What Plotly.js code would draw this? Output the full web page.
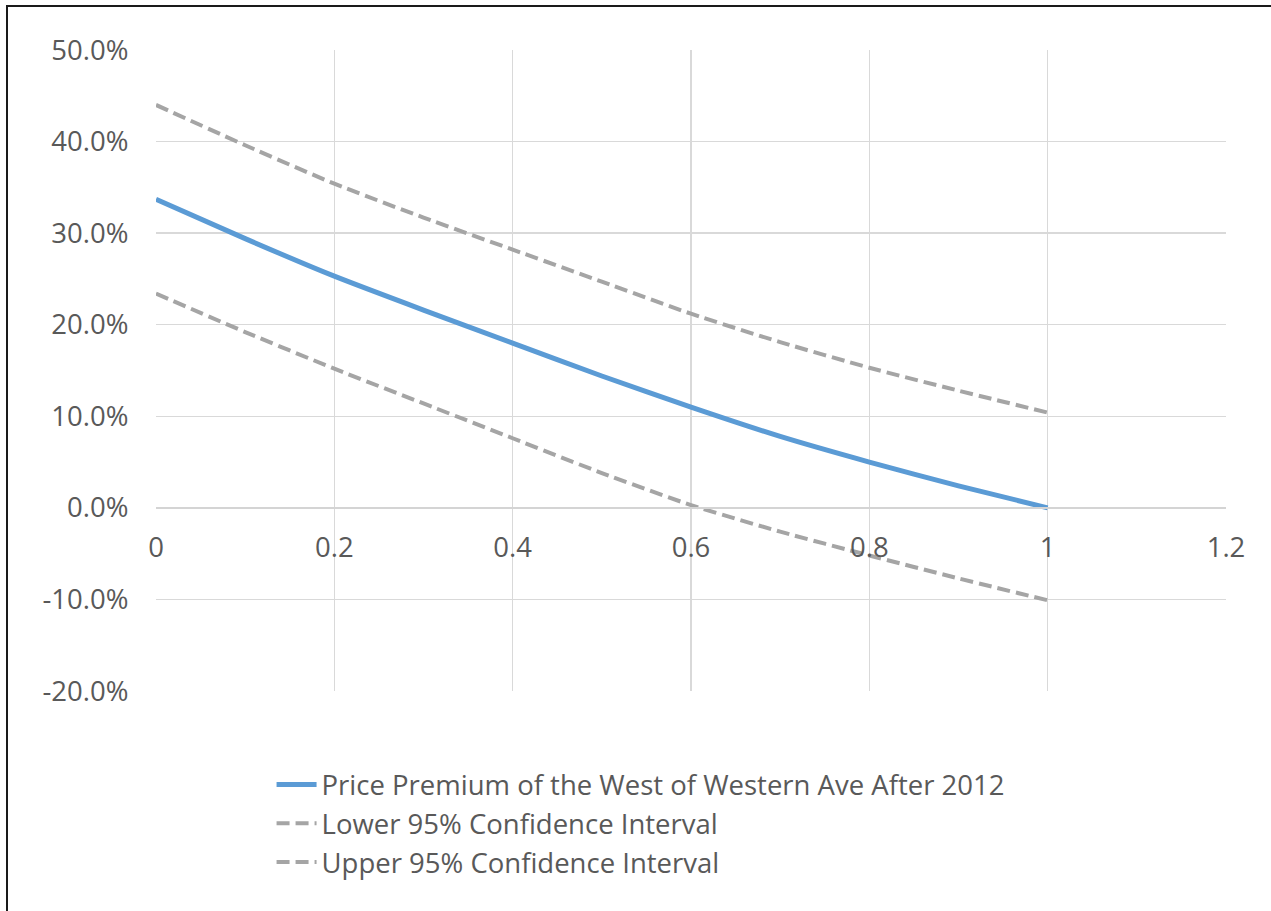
<!DOCTYPE html>
<html>
<head>
<meta charset="utf-8">
<script src="https://cdn.plot.ly/plotly-3.0.1.min.js"></script>
<style>
  html, body { margin: 0; padding: 0; background: #ffffff; }
  #chart { position: absolute; left: 0; top: 0; width: 1271px; height: 911px; }
  #frame { position: absolute; left: 6px; top: 5px; width: 1280px; height: 920px;
           border-left: 2px solid #1a1a1a; border-top: 2px solid #1a1a1a; pointer-events: none; }
</style>
</head>
<body>
<div id="chart"></div>
<div id="frame"></div>
<script>
// Data
const xValues = [0, 0.1, 0.2, 0.3, 0.4, 0.5, 0.6, 0.7, 0.8, 0.9, 1.0];
const premium = [0.337, 0.294, 0.253, 0.216, 0.180, 0.144, 0.110, 0.078, 0.050, 0.024, 0.000];
const lowerCI = [0.234, 0.192, 0.152, 0.114, 0.076, 0.038, 0.003, -0.026, -0.052, -0.077, -0.101];
const upperCI = [0.440, 0.396, 0.354, 0.317, 0.282, 0.247, 0.212, 0.181, 0.153, 0.128, 0.104];
const seriesNames = [
  "Price Premium of the West of Western Ave After 2012",
  "Lower 95% Confidence Interval",
  "Upper 95% Confidence Interval"
];
const xTicks = [0, 0.2, 0.4, 0.6, 0.8, 1.0, 1.2];
const xTickText = ["0", "0.2", "0.4", "0.6", "0.8", "1", "1.2"];
const yTicks = [-0.2, -0.1, 0, 0.1, 0.2, 0.3, 0.4, 0.5];
const yTickText = ["-20.0%", "-10.0%", "0.0%", "10.0%", "20.0%", "30.0%", "40.0%", "50.0%"];

const FONT = "'Open Sans', 'Noto Sans', sans-serif";
const TXT = "#595959";
const FS = 27.5;

const traces = [
  { x: xValues, y: premium, name: seriesNames[0], mode: "lines",
    line: { color: "#5b9bd5", width: 5, shape: "spline", smoothing: 0.6 } },
  { x: xValues, y: lowerCI, name: seriesNames[1], mode: "lines",
    line: { color: "#a5a5a5", width: 4, dash: "13px,6px", shape: "spline", smoothing: 0.6 } },
  { x: xValues, y: upperCI, name: seriesNames[2], mode: "lines",
    line: { color: "#a5a5a5", width: 4, dash: "13px,6px", shape: "spline", smoothing: 0.6 } }
];

const layout = {
  width: 1271, height: 911,
  margin: { l: 156, r: 45, t: 50, b: 220 },
  paper_bgcolor: "rgba(0,0,0,0)",
  plot_bgcolor: "#ffffff",
  font: { family: FONT, color: TXT, size: FS },
  showlegend: true,
  legend: {
    orientation: "v", x: 0.108, xanchor: "left", y: -0.108, yanchor: "top",
    font: { family: FONT, size: FS, color: TXT },
    tracegroupgap: 0, itemwidth: 40, bgcolor: "rgba(0,0,0,0)"
  },
  xaxis: {
    range: [0, 1.2], tickvals: xTicks, ticktext: xTickText,
    anchor: "free", position: 2 / 7,
    showgrid: true, gridcolor: "#d9d9d9", gridwidth: 1.5,
    showline: true, linecolor: "#d4d4d4", linewidth: 2,
    zeroline: false,
    ticks: "outside", ticklen: 15, tickcolor: "rgba(0,0,0,0)",
    tickfont: { family: FONT, size: FS, color: TXT }
  },
  yaxis: {
    range: [-0.2, 0.5], tickvals: yTicks, ticktext: yTickText,
    showgrid: true, gridcolor: "#d9d9d9", gridwidth: 1.5,
    zeroline: false, showline: false,
    ticks: "outside", ticklen: 21, tickcolor: "rgba(0,0,0,0)",
    tickfont: { family: FONT, size: FS, color: TXT }
  }
};

Plotly.newPlot("chart", traces, layout, { displayModeBar: false, staticPlot: true });
</script>
</body>
</html>
